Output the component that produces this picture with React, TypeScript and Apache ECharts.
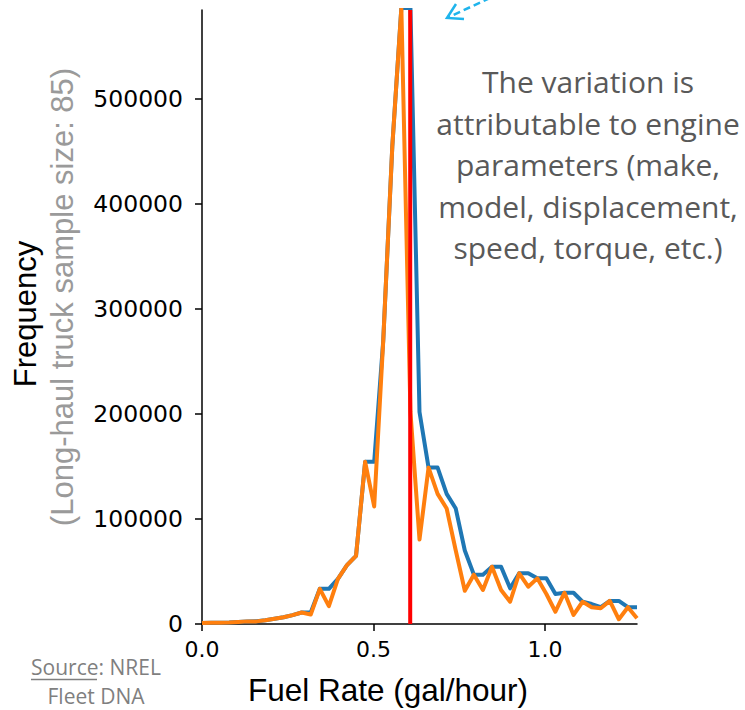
import React, { useEffect, useRef } from "react";
import * as echarts from "echarts";

// Fuel rate bin positions (gal/hour)
const fuelRate = [
  0.0, 0.0264, 0.0528, 0.0793, 0.1057, 0.1321, 0.1585, 0.1849, 0.2114, 0.2378,
  0.2642, 0.2906, 0.317, 0.3435, 0.3699, 0.3963, 0.4227, 0.4491, 0.4756, 0.502,
  0.5284, 0.5548, 0.5812, 0.6077, 0.6341, 0.6605, 0.6869, 0.7133, 0.7398, 0.7662,
  0.7926, 0.819, 0.8454, 0.8719, 0.8983, 0.9247, 0.9511, 0.9775, 1.004, 1.0304,
  1.0568, 1.0832, 1.1096, 1.1361, 1.1625, 1.1889, 1.2153, 1.2417, 1.2682,
];

// Blue series
const freqBlue = [
  1000, 1200, 1300, 1500, 2000, 2500, 2600, 3600, 5000, 6500,
  8500, 11000, 11000, 33500, 33500, 43000, 56000, 65000, 154500, 154500,
  270000, 455000, 587000, 587000, 202000, 149000, 149000, 124000, 110000, 70000,
  47000, 47000, 54600, 54600, 34000, 48300, 48300, 43500, 43500, 28600,
  29800, 29800, 21200, 19000, 16000, 22000, 22000, 16000, 16000,
];

// Orange series
const freqOrange = [
  1000, 1200, 1300, 1500, 2000, 2500, 2500, 3500, 5000, 6500,
  8500, 11000, 9000, 33500, 17000, 43000, 56000, 65000, 154500, 112000,
  270000, 455000, 587000, 202000, 80500, 149000, 124000, 110000, 70000, 31700,
  47000, 32400, 54600, 32400, 21200, 48300, 35500, 43500, 28600, 11700,
  29800, 8600, 21200, 16000, 15000, 22000, 4500, 16000, 5400,
];

const meanFuelRate = 0.607;
const yMax = 585000;
const yTicks = [0, 100000, 200000, 300000, 400000, 500000];
const xTicks = [0, 0.5, 1.0];

const yTitle = "Frequency";
const ySubTitle = "(Long-haul truck sample size: 85)";
const xTitle = "Fuel Rate (gal/hour)";
const annotationLines = [
  "The variation is",
  "attributable to engine",
  "parameters (make,",
  "model, displacement,",
  "speed, torque, etc.)",
];
const sourceLines = ["Source: NREL", "Fleet DNA"];

export default function App() {
  const ref = useRef<HTMLDivElement>(null);

  useEffect(() => {
    document.body.style.margin = "0";
    const chart = echarts.init(ref.current!, null, { renderer: "svg" });
    const axisColor = "#000";
    chart.setOption({
      animation: false,
      backgroundColor: "#fff",
      grid: { left: 202, top: 10, width: 435, height: 614, containLabel: false },
      xAxis: {
        type: "value",
        min: 0,
        max: fuelRate[fuelRate.length - 1],
        splitLine: { show: false },
        axisLine: { show: true, lineStyle: { color: axisColor, width: 1.5 } },
        axisTick: {
          show: true,
          length: 7,
          customValues: xTicks,
          lineStyle: { color: axisColor, width: 1.5 },
        },
        axisLabel: {
          customValues: xTicks,
          formatter: (v: number) => v.toFixed(1),
          fontFamily: "DejaVu Sans",
          fontSize: 22,
          color: "#000",
          margin: 14,
        },
      },
      yAxis: {
        type: "value",
        min: 0,
        max: yMax,
        interval: 100000,
        splitLine: { show: false },
        axisLine: { show: true, lineStyle: { color: axisColor, width: 1.5 } },
        axisTick: {
          show: true,
          length: 7,
          customValues: yTicks,
          lineStyle: { color: axisColor, width: 1.5 },
        },
        axisLabel: {
          customValues: yTicks,
          formatter: (v: number) => String(v),
          fontFamily: "DejaVu Sans",
          fontSize: 23.5,
          color: "#000",
          margin: 19,
        },
      },
      series: [
        {
          type: "line",
          data: fuelRate.map((x, i) => [x, freqBlue[i]]),
          showSymbol: false,
          symbol: "none",
          clip: true,
          z: 2,
          lineStyle: { color: "#1f77b4", width: 4, join: "round" },
        },
        {
          type: "line",
          data: fuelRate.map((x, i) => [x, freqOrange[i]]),
          showSymbol: false,
          symbol: "none",
          clip: true,
          z: 3,
          lineStyle: { color: "#ff7f0e", width: 4, join: "round" },
        },
        {
          type: "line",
          data: [
            [meanFuelRate, 0],
            [meanFuelRate, yMax],
          ],
          showSymbol: false,
          symbol: "none",
          clip: true,
          z: 4,
          lineStyle: { color: "#ff0000", width: 4 },
        },
      ],
      graphic: [
        {
          type: "text",
          x: 25,
          y: 314,
          rotation: Math.PI / 2,
          style: {
            text: yTitle,
            fontFamily: "Liberation Sans",
            fontSize: 31,
            fill: "#000",
            align: "center",
            verticalAlign: "middle",
          },
        },
        {
          type: "text",
          x: 62,
          y: 297,
          rotation: Math.PI / 2,
          style: {
            text: ySubTitle,
            fontFamily: "Liberation Sans",
            fontSize: 31,
            fill: "#9a9a9a",
            align: "center",
            verticalAlign: "middle",
          },
        },
        {
          type: "text",
          x: 388,
          y: 690,
          style: {
            text: xTitle,
            fontFamily: "Liberation Sans",
            fontSize: 31.5,
            fill: "#000",
            align: "center",
            verticalAlign: "middle",
          },
        },
        {
          type: "text",
          x: 588,
          y: 61,
          style: {
            text: annotationLines.join("\n"),
            fontFamily: "Open Sans",
            fontSize: 30,
            lineHeight: 41.5,
            fill: "#595959",
            align: "center",
            verticalAlign: "top",
          },
        },
        {
          type: "text",
          x: 96,
          y: 652,
          style: {
            text: sourceLines.join("\n"),
            fontFamily: "Open Sans",
            fontSize: 21,
            lineHeight: 29,
            fill: "#7f7f7f",
            align: "center",
            verticalAlign: "top",
          },
        },
        {
          type: "line",
          shape: { x1: 31, y1: 679.5, x2: 97, y2: 679.5 },
          style: { stroke: "#7f7f7f", lineWidth: 1.5 },
        },
        {
          type: "line",
          shape: { x1: 490, y1: -2, x2: 449, y2: 17 },
          style: { stroke: "#1fb4ec", lineWidth: 2.5, lineDash: [7, 4] },
        },
        {
          type: "polyline",
          shape: {
            points: [
              [456, 4],
              [447, 18],
              [464, 19],
            ],
          },
          style: { stroke: "#1fb4ec", lineWidth: 2.5, fill: "none" },
        },
      ],
    });
    return () => chart.dispose();
  }, []);

  return <div ref={ref} style={{ width: 745, height: 710 }} />;
}
